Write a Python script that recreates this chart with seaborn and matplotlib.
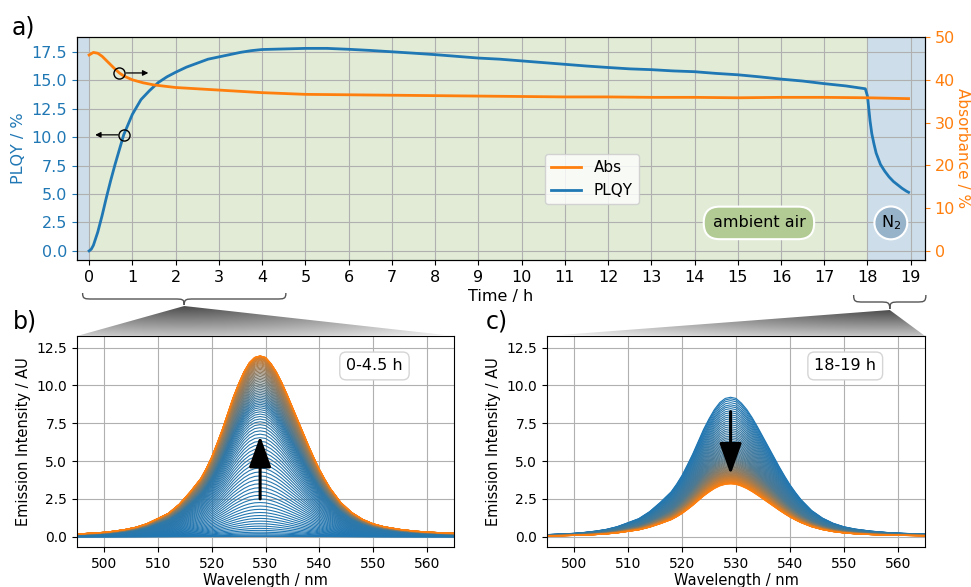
import numpy as np
import pandas as pd
import matplotlib
matplotlib.use('Agg')
import matplotlib.pyplot as plt
import seaborn as sns
from matplotlib.path import Path
from matplotlib.patches import PathPatch, Polygon
from matplotlib.colors import LinearSegmentedColormap

# ---- data ----
# a) PLQY (left axis, %)
t_plqy = [0, 0.05, 0.1, 0.2, 0.3, 0.4, 0.5, 0.6, 0.7, 0.8, 0.9, 1.0, 1.2, 1.4, 1.6,
          1.8, 2.0, 2.25, 2.5, 2.75, 3.0, 3.25, 3.5, 3.75, 4.0, 4.5, 5.0, 5.5, 6.0,
          6.5, 7.0, 7.5, 8.0, 8.5, 9.0, 9.5, 10.0, 10.5, 11.0, 11.5, 12.0, 12.5,
          13.0, 13.5, 14.0, 14.5, 15.0, 15.5, 16.0, 16.5, 17.0, 17.5, 17.95, 18.0,
          18.03, 18.06, 18.1, 18.15, 18.2, 18.3, 18.4, 18.5, 18.6, 18.7, 18.8, 18.9, 18.95]
plqy = [0.0, 0.15, 0.5, 1.65, 3.1, 4.7, 6.2, 7.6, 8.9, 10.2, 11.1, 12.0, 13.3, 14.1, 14.8,
        15.3, 15.7, 16.15, 16.5, 16.85, 17.05, 17.25, 17.45, 17.6, 17.7, 17.75, 17.8, 17.8, 17.72,
        17.62, 17.5, 17.38, 17.25, 17.1, 16.95, 16.85, 16.7, 16.55, 16.4, 16.25, 16.12, 16.0,
        15.93, 15.82, 15.75, 15.6, 15.48, 15.3, 15.1, 14.93, 14.7, 14.5, 14.25, 13.6,
        12.5, 11.4, 10.3, 9.4, 8.6, 7.6, 7.0, 6.5, 6.1, 5.8, 5.5, 5.25, 5.15]

# a) absorbance (right axis, %)
t_abs = [0, 0.1, 0.2, 0.3, 0.4, 0.5, 0.6, 0.7, 0.8, 1.0, 1.25, 1.5, 1.75, 2.0, 2.5, 3.0,
         3.5, 4.0, 4.5, 5.0, 6.0, 7.0, 8.0, 9.0, 10.0, 11.0, 12.0, 13.0, 14.0, 15.0,
         16.0, 17.0, 18.0, 18.95]
absorb = [45.8, 46.4, 46.2, 45.5, 44.5, 43.5, 42.5, 41.6, 40.9, 40.0, 39.3, 38.8, 38.5,
          38.2, 37.9, 37.6, 37.3, 37.0, 36.8, 36.6, 36.5, 36.4, 36.3, 36.2, 36.1, 36.0,
          36.0, 35.9, 35.9, 35.8, 35.9, 35.9, 35.8, 35.6]

# emission spectrum shape (outer curve of b), AU)
wl = [495, 498, 500, 502, 504, 506, 508, 510, 512, 514, 516, 518, 519, 520, 521, 522, 523,
      524, 525, 526, 527, 528, 529, 530, 531, 532, 533, 534, 535, 536, 537, 538, 539, 540,
      541, 542, 544, 546, 548, 550, 552, 555, 558, 561, 565]
spec = [0.18, 0.24, 0.29, 0.37, 0.48, 0.63, 0.86, 1.2, 1.55, 2.15, 2.95, 3.85, 4.5, 5.25,
        6.15, 7.1, 8.15, 9.2, 10.1, 10.9, 11.5, 11.85, 11.95, 11.85, 11.45, 10.9, 10.2, 9.4,
        8.55, 7.7, 6.85, 6.0, 5.2, 4.45, 3.8, 3.2, 2.25, 1.6, 1.15, 0.85, 0.66, 0.48, 0.36,
        0.29, 0.22]

# peak heights of the individual spectra, b) 0-4.5 h
peaks_b_rise = [0.02, 0.06, 0.12, 0.2, 0.3, 0.42, 0.55, 0.7, 0.86, 1.03, 1.21, 1.4, 1.6,
                1.81, 2.03, 2.26, 2.5, 2.74, 2.99, 3.24, 3.5, 3.76, 4.02, 4.28, 4.54, 4.8,
                5.06, 5.32, 5.57, 5.82, 6.07, 6.31, 6.55, 6.78, 7.0, 7.21, 7.41, 7.6, 7.78,
                7.95, 8.11, 8.26, 8.4, 8.53, 8.65]
peaks_b_plateau = [8.76, 8.87, 8.98, 9.09, 9.2, 9.31, 9.42, 9.53, 9.64, 9.75, 9.86, 9.97,
                   10.08, 10.19, 10.3, 10.4, 10.5, 10.6, 10.7, 10.79, 10.88, 10.97, 11.06,
                   11.14, 11.22, 11.3, 11.37, 11.44, 11.5, 11.56, 11.62, 11.67, 11.72, 11.76,
                   11.8, 11.83, 11.86, 11.88, 11.9, 11.92, 11.93, 11.94, 11.95, 11.95, 11.95]
# c) 18-19 h
peaks_c_drop = [9.22, 9.12, 9.0, 8.86, 8.72, 8.6, 8.47, 8.33, 8.2, 8.06, 7.93, 7.8, 7.66,
                7.53, 7.4, 7.27, 7.14, 7.02, 6.9, 6.78, 6.66, 6.55, 6.44, 6.33, 6.22, 6.12,
                6.02, 5.92, 5.83, 5.74, 5.65, 5.56]
peaks_c_tail = [5.48, 5.4, 5.32, 5.24, 5.17, 5.1, 5.03, 4.96, 4.9, 4.84, 4.78, 4.72, 4.66,
                4.61, 4.56, 4.51, 4.46, 4.41, 4.36, 4.32, 4.28, 4.24, 4.2, 4.16, 4.12, 4.08,
                4.05, 4.02, 3.99, 3.96, 3.93, 3.9, 3.87, 3.84, 3.81, 3.78, 3.75, 3.72, 3.7,
                3.67, 3.64, 3.62, 3.6, 3.57, 3.55, 3.53, 3.51, 3.49]

BLUE, ORANGE = '#1f77b4', '#ff7f0e'
W, H = 971, 587

fig = plt.figure(figsize=(W / 100, H / 100), dpi=100)


def px_axes(left, top, right, bottom):
    return fig.add_axes([left / W, 1 - bottom / H, (right - left) / W, (bottom - top) / H])


ax = px_axes(77, 37, 925, 260)
axb = px_axes(77, 336, 454, 547)
axc = px_axes(547, 336, 925, 547)

# ---- a) time trace ----
xlo, xhi = -0.28, 19.33
ax.set_xlim(xlo, xhi)
ax.set_ylim(-0.8, 18.8)
ax.axvspan(xlo, 0, color='#cddeea', lw=0, zorder=0)
ax.axvspan(0, 18, color='#e1ebd6', lw=0, zorder=0)
ax.axvspan(18, xhi, color='#cddeea', lw=0, zorder=0)
ax.set_axisbelow(True)
ax.grid(True, color='#b0b0b0', lw=0.8)

sns.lineplot(x=t_plqy, y=plqy, ax=ax, color=BLUE, lw=2, label='PLQY', legend=False)
ax2 = ax.twinx()
ax2.set_ylim(-2.1, 50)
sns.lineplot(x=t_abs, y=absorb, ax=ax2, color=ORANGE, lw=2, label='Abs', legend=False)
plqy_line = ax.get_lines()[0]
abs_line = ax2.get_lines()[0]

ax.set_xticks(range(0, 20))
ax.set_yticks(np.arange(0, 17.6, 2.5))
ax2.set_yticks(range(0, 51, 10))
ax.tick_params(axis='x', labelsize=11.5)
ax.tick_params(axis='y', labelsize=11.5, colors=BLUE)
ax2.tick_params(axis='y', labelsize=11.5, colors=ORANGE)
ax.set_xlabel('Time / h', fontsize=11.5, labelpad=3)
ax.set_ylabel('PLQY / %', fontsize=11.5, color=BLUE)
ax2.set_ylabel('Absorbance / %', fontsize=11, color=ORANGE, rotation=270, va='bottom', labelpad=0)

ax2.legend([abs_line, plqy_line], ['Abs', 'PLQY'], loc='center',
           bbox_to_anchor=(0.607, 0.363), fontsize=11)

# which-axis markers
arrow_kw = dict(arrowstyle='-|>', color='k', lw=0.9, mutation_scale=8, shrinkA=0, shrinkB=0)
i1 = t_abs.index(0.7)
ax2.plot(t_abs[i1], absorb[i1], 'o', mfc='none', mec='k', ms=8, mew=1)
ax2.annotate('', xy=(1.37, absorb[i1]), xytext=(0.86, absorb[i1]), arrowprops=arrow_kw)
i2 = t_plqy.index(0.8)
ax.plot(t_plqy[i2], plqy[i2], 'o', mfc='none', mec='k', ms=8, mew=1, zorder=5)
ax.annotate('', xy=(0.14, plqy[i2]), xytext=(0.67, plqy[i2]), arrowprops=arrow_kw, zorder=5)

ax.text(15.49, 2.46, 'ambient air', ha='center', va='center', fontsize=11.5, zorder=6,
        bbox=dict(boxstyle='round,pad=0.55,rounding_size=1.0', fc='#b2ca94', ec='white', lw=1.5))
ax.text(18.54, 2.46, 'N$_2$', ha='center', va='center', fontsize=11.5, zorder=6,
        bbox=dict(boxstyle='circle,pad=0.4', fc='#97b3ca', ec='white', lw=1.5))

# ---- b), c) spectra ----
cmap = sns.blend_palette([BLUE, ORANGE], as_cmap=True)
profile = np.array(spec) / max(spec)


def draw_spectra(axp, peaks_a, peaks_b, split, label, tail, tip):
    peaks = list(peaks_a) + list(peaks_b)
    fr = np.concatenate([np.linspace(0, split, len(peaks_a)), np.linspace(split, 1, len(peaks_b))])
    rows = [(w, p * s, i) for i, p in enumerate(peaks) for w, s in zip(wl, profile)]
    df = pd.DataFrame(rows, columns=['wl', 'I', 'id'])
    sns.lineplot(data=df, x='wl', y='I', hue='id', palette=[cmap(f) for f in fr],
                 estimator=None, lw=0.8, legend=False, ax=axp)
    axp.set_xlim(495, 565)
    axp.set_ylim(-0.68, 13.27)
    axp.set_xticks(range(500, 561, 10))
    axp.set_yticks(np.arange(0, 12.6, 2.5))
    axp.set_axisbelow(True)
    axp.grid(True, color='#b0b0b0', lw=0.8)
    axp.tick_params(labelsize=10)
    axp.set_xlabel('Wavelength / nm', fontsize=10.5, labelpad=2)
    axp.set_ylabel('Emission Intensity / AU', fontsize=10.5)
    axp.text(0.789, 0.858, label, transform=axp.transAxes, ha='center', va='center',
             fontsize=11.5, bbox=dict(boxstyle='round,pad=0.4', fc='white', ec='#d5d5d5'))
    axp.annotate('', xy=(529, tip), xytext=(529, tail), zorder=10,
                 arrowprops=dict(arrowstyle='-|>,head_length=1.9,head_width=0.68', lw=2.2,
                                 color='k', mutation_scale=10, shrinkA=0, shrinkB=0))


draw_spectra(axb, peaks_b_rise, peaks_b_plateau, 0.08, '0-4.5 h', 2.5, 6.66)
draw_spectra(axc, peaks_c_drop, peaks_c_tail, 0.2, '18-19 h', 8.27, 4.12)

fig.text(12 / W, 1 - 27 / H, 'a)', fontsize=17, va='center', ha='left')
fig.text(13 / W, 1 - 322 / H, 'b)', fontsize=17, va='center', ha='left')
fig.text(486 / W, 1 - 322 / H, 'c)', fontsize=17, va='center', ha='left')

# ---- braces and zoom wedges ----
ov = fig.add_axes([0, 0, 1, 1])
ov.patch.set_visible(False)
ov.axis('off')


def to_px(axis, x, y):
    dx, dy = axis.transData.transform((x, y))
    return dx, H - dy


def brace(x0, x1, y0, depth, r=10):
    xm = (x0 + x1) / 2
    y1 = y0 + depth * 0.5
    yt = y0 + depth
    verts = [(x0, y0), (x0, y1), (x0 + r * 0.2, y1), (x0 + r, y1),
             (xm - r, y1),
             (xm - r * 0.2, y1), (xm, y1), (xm, yt),
             (xm, y1), (xm + r * 0.2, y1), (xm + r, y1),
             (x1 - r, y1),
             (x1 - r * 0.2, y1), (x1, y1), (x1, y0)]
    codes = [Path.MOVETO, Path.CURVE4, Path.CURVE4, Path.CURVE4, Path.LINETO,
             Path.CURVE4, Path.CURVE4, Path.CURVE4, Path.CURVE4, Path.CURVE4, Path.CURVE4,
             Path.LINETO, Path.CURVE4, Path.CURVE4, Path.CURVE4]
    ov.add_patch(PathPatch(Path(verts, codes), fc='none', ec='#555555', lw=1.0))
    return xm, yt


gray = LinearSegmentedColormap.from_list('g', ['#4d4d4d', '#f6f6f6'])


def wedge(tip, target):
    pos = target.get_position()
    bl, br = pos.x0 * W, pos.x1 * W
    by = H - pos.y1 * H
    tx, ty = tip
    poly = Polygon([(tx, ty), (bl, by), (br, by)], closed=True, fc='none', ec='none')
    ov.add_patch(poly)
    xs = np.linspace(bl, br, 400)
    ys = np.linspace(ty, by, 60)
    gx, gy = np.meshgrid(xs, ys)
    dxm = max(tx - bl, br - tx)
    v = np.sqrt(((gx - tx) / dxm) ** 2 + ((gy - ty) / (by - ty)) ** 2) / np.sqrt(2)
    im = ov.imshow(v, extent=(bl, br, by, ty), origin='upper', cmap=gray, vmin=0, vmax=1,
                   aspect='auto', interpolation='bilinear')
    im.set_clip_path(poly)


ybot = H - ax.get_position().y0 * H
xa0, _ = to_px(ax, -0.15, 0)
xa1, _ = to_px(ax, 4.55, 0)
tip_b = brace(xa0, xa1, ybot + 33, 12)
xc0, _ = to_px(ax, 17.68, 0)
xc1, _ = to_px(ax, 19.35, 0)
tip_c = brace(xc0, xc1, ybot + 35, 14)
wedge((tip_b[0], tip_b[1] + 1), axb)
wedge((tip_c[0], tip_c[1] + 1), axc)
ov.set_xlim(0, W)
ov.set_ylim(H, 0)

fig.savefig('out.png', dpi=100)
